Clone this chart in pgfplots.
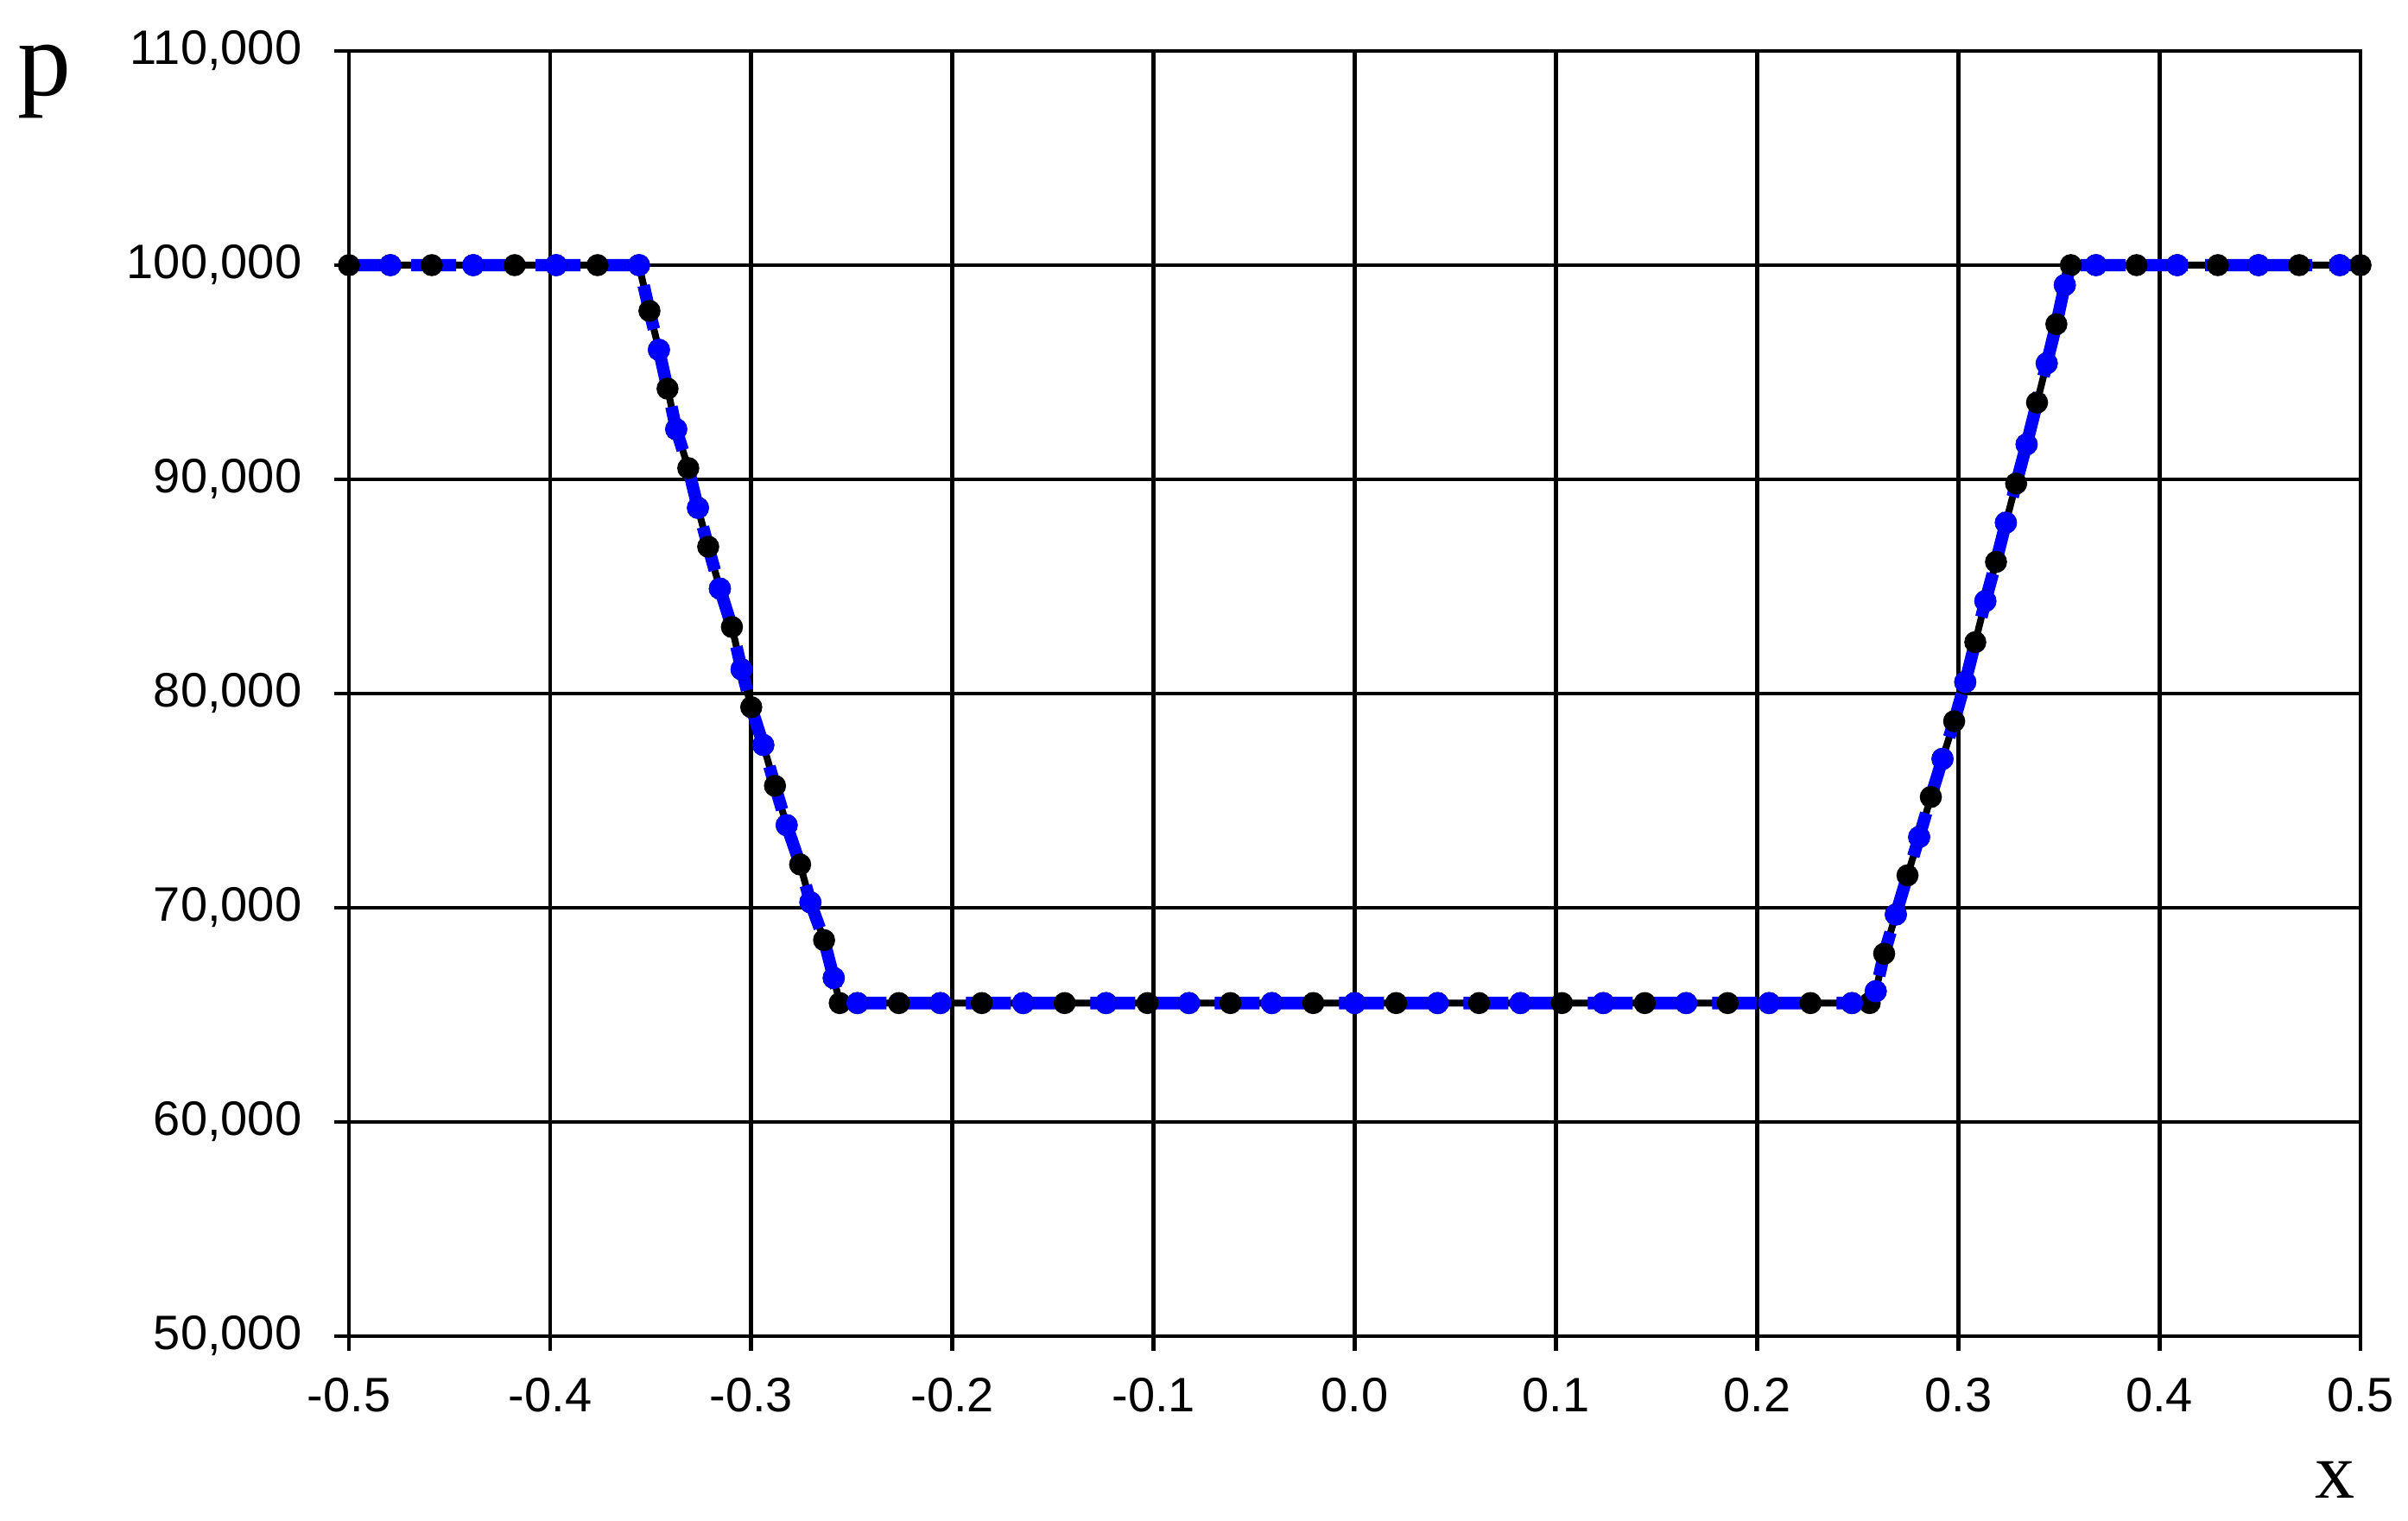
\documentclass[border=0pt]{standalone}
\usepackage{fontspec}
\setmainfont{Liberation Sans}
\newfontfamily\serifp{Liberation Serif}
\usepackage{pgfplots}
\pgfplotsset{compat=1.18}
\usepackage{pgfplotstable}
\usetikzlibrary{calc}

\pgfplotstableread{
x p
-0.5000 100000
-0.4794 100000
-0.4588 100000
-0.4382 100000
-0.4176 100000
-0.3970 100000
-0.3764 100000
-0.3558 100000
-0.3506 97863
-0.3459 96048
-0.3416 94234
-0.3373 92339
-0.3313 90524
-0.3265 88669
-0.3214 86855
-0.3156 84900
-0.3096 83107
-0.3048 81130
-0.3000 79364
-0.2940 77599
-0.2882 75692
-0.2824 73856
-0.2757 72020
-0.2706 70254
-0.2638 68489
-0.2590 66723
-0.2560 65550
-0.2472 65550
-0.2266 65550
-0.2060 65550
-0.1854 65550
-0.1648 65550
-0.1442 65550
-0.1236 65550
-0.1030 65550
-0.0824 65550
-0.0618 65550
-0.0412 65550
-0.0206 65550
0.0000 65550
0.0206 65550
0.0412 65550
0.0618 65550
0.0824 65550
0.1030 65550
0.1236 65550
0.1442 65550
0.1648 65550
0.1854 65550
0.2060 65550
0.2266 65550
0.2472 65550
0.2560 65550
0.2590 66100
0.2632 67854
0.2690 69683
0.2748 71512
0.2806 73300
0.2864 75171
0.2922 76950
0.2980 78707
0.3035 80537
0.3085 82400
0.3135 84317
0.3188 86146
0.3237 87976
0.3288 89805
0.3340 91634
0.3392 93585
0.3440 95415
0.3488 97244
0.3530 99073
0.3560 100000
0.3685 100000
0.3887 100000
0.4089 100000
0.4291 100000
0.4493 100000
0.4695 100000
0.4897 100000
0.5000 100000
}\datatable

\begin{document}
\begin{tikzpicture}
\begin{axis}[
  name=ax,
  width=582.25pt, height=372pt, scale only axis,
  xmin=-0.5, xmax=0.5, ymin=50000, ymax=110000,
  scaled y ticks=false, scaled x ticks=false,
  xtick={-0.5,-0.4,-0.3,-0.2,-0.1,0,0.1,0.2,0.3,0.4,0.5},
  xticklabels={-0.5,-0.4,-0.3,-0.2,-0.1,0.0,0.1,0.2,0.3,0.4,0.5},
  ytick={50000,60000,70000,80000,90000,100000,110000},
  yticklabels={{50,000},{60,000},{70,000},{80,000},{90,000},{100,000},{110,000}},
  xtick pos=bottom, ytick pos=left,
  grid=major,
  major grid style={black, line width=1.2pt},
  axis line style={black, line width=1.2pt},
  tick align=outside,
  major tick length=4.25pt,
  tick style={black, line width=1.2pt},
  ticklabel style={font=\fontsize{14}{16}\selectfont, inner sep=0pt},
  xticklabel style={yshift=-7.75pt},
  yticklabel style={xshift=-9.25pt},
]
\addplot[black, line width=2pt, mark=*, mark size=3pt,
  mark options={solid, fill=black, line width=0.4pt}] table[x=x, y=p] {\datatable};
\addplot[blue, line width=3.6pt, dash pattern=on 13pt off 5pt,
  mark=*, mark repeat=2, mark phase=2, mark size=3pt,
  mark options={solid, fill=blue, draw=blue, line width=0.4pt}] table[x=x, y=p] {\datatable};
\end{axis}
\node[font=\serifp\fontsize{31}{33}\selectfont, inner sep=0pt] at ($(ax.north west)+(-88.1pt,-9pt)$) {p};
\node[font=\serifp\fontsize{23}{25}\selectfont, inner sep=0pt] at ($(ax.south east)+(-7.5pt,-41.5pt)$) {x};
\pgfresetboundingbox
\path ($(ax.south west)+(-101pt,-53.5pt)$) rectangle ($(ax.north east)+(13.75pt,14.75pt)$);
\end{tikzpicture}
\end{document}
